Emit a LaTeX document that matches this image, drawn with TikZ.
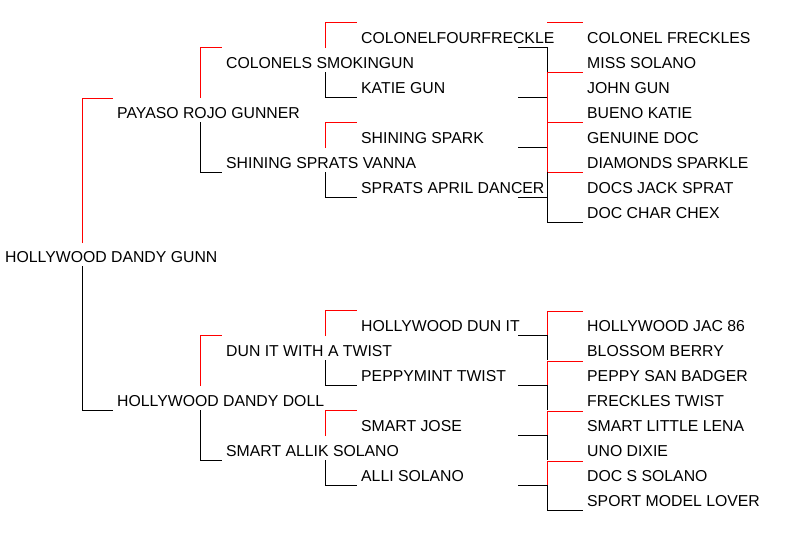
\documentclass[tikz,border=0pt]{standalone}
\usepackage{fontspec}
\setmainfont{Liberation Sans}
\begin{document}
\begin{tikzpicture}[x=1pt,y=-1pt,
  nm/.style={anchor=base west,inner sep=0pt,font=\fontsize{15.8}{18}\selectfont},
  sire/.style={red,line width=1pt},
  dam/.style={black,line width=1pt}]
\useasboundingbox (0,0) rectangle (798,533);
% names
\node[nm] (r) at (5,262) {HOLLYWOOD DANDY GUNN};
\node[nm] (a) at (117,118) {PAYASO ROJO GUNNER};
\node[nm] (b) at (117,406) {HOLLYWOOD DANDY DOLL};
\node[nm] (a1) at (226,68) {COLONELS SMOKINGUN};
\node[nm] (a2) at (226,168) {SHINING SPRATS VANNA};
\node[nm] (b1) at (226,356) {DUN IT WITH A TWIST};
\node[nm] (b2) at (226,456) {SMART ALLIK SOLANO};
\foreach \t/\y [count=\i] in {COLONELFOURFRECKLE/37,KATIE GUN/87,SHINING SPARK/137,SPRATS APRIL DANCER/187,HOLLYWOOD DUN IT/325,PEPPYMINT TWIST/375,SMART JOSE/425,ALLI SOLANO/475}
  \node[nm] (g\i) at (361,\y+6) {\t};
\foreach \t/\y [count=\i] in {COLONEL FRECKLES/37,MISS SOLANO/62,JOHN GUN/87,BUENO KATIE/112,GENUINE DOC/137,DIAMONDS SPARKLE/162,DOCS JACK SPRAT/187,DOC CHAR CHEX/212,HOLLYWOOD JAC 86/325,BLOSSOM BERRY/350,PEPPY SAN BADGER/375,FRECKLES TWIST/400,SMART LITTLE LENA/425,UNO DIXIE/450,DOC S SOLANO/475,SPORT MODEL LOVER/500}
  \node[nm] (f\i) at (587,\y+6) {\t};
% root bracket
\draw[sire] (82,243) -- (82,98) -- (113,98);
\draw[dam] (82,266) -- (82,410) -- (113,410);
% gen 2 brackets
\foreach \y in {112,400}{
  \draw[sire] (200,\y-14) -- (200,\y-65) -- (222,\y-65);
  \draw[dam] (200,\y+10) -- (200,\y+60) -- (222,\y+60);}
% gen 3 brackets
\foreach \y in {62,162,350,450}{
  \draw[sire] (325,\y-14) -- (325,\y-40) -- (357,\y-40);
  \draw[dam] (325,\y+10) -- (325,\y+35) -- (357,\y+35);}
% gen 4 upper
\foreach \y in {47,97,147,197} \draw[dam] (518,\y) -- (547,\y);
\draw[sire] (547,22) -- (583,22);
\foreach \y in {72,122,172} \draw[sire] (547,\y) -- (583,\y);
\draw[sire] (547,72) -- (547,172);
\draw[dam] (547,47) -- (547,72);
\draw[dam] (547,172) -- (547,222) -- (583,222);
% gen 4 lower
\foreach \y in {335,385,435,485}{
  \draw[dam] (518,\y) -- (547,\y);
  \draw[sire] (547,\y) -- (547,\y-24) -- (583,\y-24);
  \draw[dam] (547,\y) -- (547,\y+25);}
\draw[dam] (547,510) -- (583,510);
\end{tikzpicture}
\end{document}
